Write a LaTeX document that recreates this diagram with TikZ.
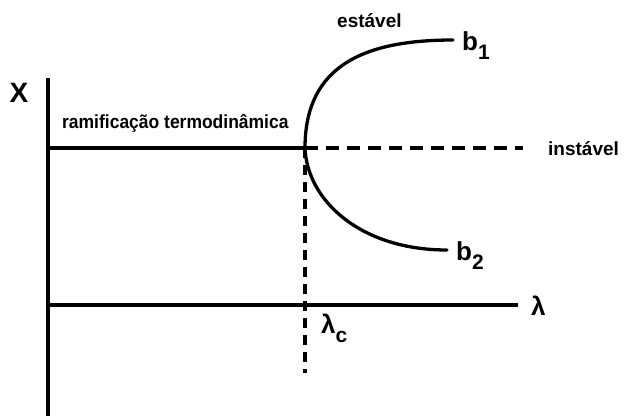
\documentclass[tikz,border=0pt]{standalone}
\usepackage{fontspec}
\setmainfont{Liberation Sans}
\usepackage{tikz}
\usetikzlibrary{positioning,calc}
\newcommand{\lowsub}[1]{\raisebox{-9pt}{\fontsize{21}{24}\selectfont #1}}
\tikzset{
  axis/.style={line width=4pt},
  branch/.style={line width=3.3pt, line cap=round},
  unstable/.style={line width=3.2pt, dash pattern=on 13pt off 8pt},
  crit/.style={line width=3.2pt, dash pattern=on 10pt off 7pt},
  lbl/.style={inner sep=0pt, font=\bfseries\fontsize{19}{22}\selectfont},
  bigl/.style={inner sep=0pt, font=\bfseries\fontsize{26}{30}\selectfont},
}
\begin{document}
\begin{tikzpicture}[x=1pt,y=-1pt]
\useasboundingbox (0,0) rectangle (624,416);
% axes
\coordinate (ytop) at (48,78);
\coordinate (ybot) at (48,416);
\coordinate (xbeg) at (48,305);
\coordinate (xend) at (518,305);
\draw[axis] (ytop) -- (ybot);
\draw[branch, line cap=butt] (xbeg) -- (xend);
% thermodynamic branch and bifurcation
\coordinate (tbeg) at (48,148);
\coordinate (bp) at (305,148);
\coordinate (uend) at (523,148);
\coordinate (cbot) at (305,373);
\coordinate (b1end) at (453,40);
\coordinate (b2end) at (447,250);
\draw[branch, line cap=butt] (tbeg) -- (bp);
\draw[unstable] (bp) -- (uend);
\draw[crit] (bp) -- (cbot);
\draw[branch] (bp) .. controls (305,65) and (365,40) .. (b1end);
\draw[branch] (bp) .. controls (307,200) and (360,250) .. (b2end);
% labels
\node[bigl, anchor=base, font=\bfseries\fontsize{28}{32}\selectfont] (xl) at (19,102) {X};
\node[lbl, anchor=base west, xscale=0.92] (ramo) at (62,128) {ramificação termodinâmica};
\node[lbl, anchor=base west] (est) at (337,27) {estável};
\node[lbl, anchor=base west] (inst) at (548,155) {instável};
\node[bigl, anchor=base west] (b1) at (462,50) {b\lowsub{1}};
\node[bigl, anchor=base west] (b2) at (456,260) {b\lowsub{2}};
\node[bigl, anchor=base west] (lam) at (531,315) {λ};
\node[bigl, anchor=base west] (lamc) at (321,333) {λ\lowsub{c}};
\end{tikzpicture}
\end{document}
